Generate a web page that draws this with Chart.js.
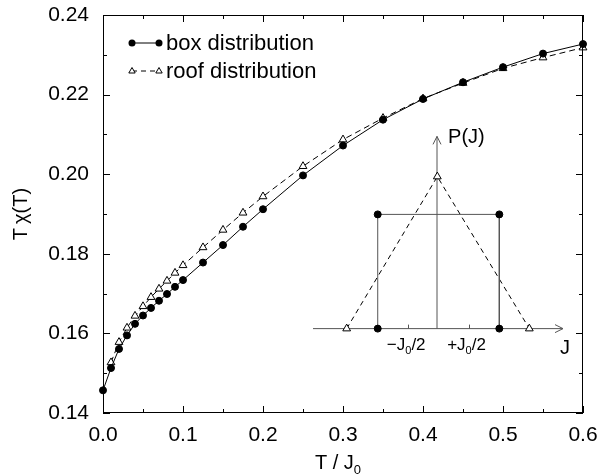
<!DOCTYPE html>
<html>
<head>
<meta charset="utf-8">
<script src="https://cdn.jsdelivr.net/npm/chart.js@4.4.1/dist/chart.umd.min.js"></script>
<style>
  html, body { margin: 0; padding: 0; background: #fff; }
  canvas { display: block; }
</style>
</head>
<body>
<canvas id="chi" width="598" height="474"></canvas>
<script>
const temps = [0, 0.01, 0.02, 0.03, 0.04, 0.05, 0.06, 0.07, 0.08, 0.09, 0.1,
  0.125, 0.15, 0.175, 0.2, 0.25, 0.3, 0.35, 0.4, 0.45, 0.5, 0.55, 0.6];
const boxChi = [0.1457, 0.1513, 0.1561, 0.1595, 0.1624, 0.1645, 0.1664, 0.1682, 0.1699, 0.1717, 0.1734,
  0.1778, 0.1822, 0.1868, 0.1912, 0.1997, 0.2072, 0.2137, 0.2189, 0.2231, 0.2269, 0.2303, 0.2327];
const roofTemps = temps.slice(1);
const roofChi = [0.1527, 0.1578, 0.1614, 0.1644, 0.1668, 0.1691, 0.1712, 0.1732, 0.1752, 0.1771,
  0.1816, 0.1860, 0.1903, 0.1944, 0.2020, 0.2087, 0.2141, 0.2190, 0.2229, 0.2266, 0.2293, 0.2318];

const xTickLabels = ["0.0", "0.1", "0.2", "0.3", "0.4", "0.5", "0.6"];
const yTickLabels = ["0.14", "0.16", "0.18", "0.20", "0.22", "0.24"];

// inset sketch of P(J), given in the main plot's coordinates
const insetBase = 0.1612;
const jAxisX = [0.2625, 0.575];
const pAxisX = 0.4175;
const pAxisY = [0.1612, 0.2095];
const boxJ = [0.3434, 0.3434, 0.4954, 0.4954];
const boxP = [0.1612, 0.1899, 0.1899, 0.1612];
const roofJ = [0.3046, 0.4179, 0.5329];
const roofP = [0.1612, 0.1994, 0.1612];
const insetTicks = [0.381, 0.457];

const FONT = '"Liberation Sans", Arial, Helvetica, sans-serif';
const zip = (xs, ys) => xs.map((x, i) => ({ x: x, y: ys[i] }));

function subText(ctx, parts, x, y, size, align) {
  // parts: [[text, isSub], ...]; draws with a lowered, smaller subscript
  const subSize = Math.round(size * 0.65);
  let w = 0;
  parts.forEach(p => {
    ctx.font = (p[1] ? subSize : size) + 'px ' + FONT;
    w += ctx.measureText(p[0]).width;
  });
  let cx = align === 'center' ? x - w / 2 : x;
  ctx.textAlign = 'left';
  ctx.textBaseline = 'alphabetic';
  parts.forEach(p => {
    ctx.font = (p[1] ? subSize : size) + 'px ' + FONT;
    ctx.fillText(p[0], cx, p[1] ? y + size * 0.25 : y);
    cx += ctx.measureText(p[0]).width;
  });
}

const decor = {
  id: 'decor',
  afterDraw(chart) {
    const ctx = chart.ctx;
    const xs = chart.scales.x, ys = chart.scales.y;
    const { left, right, top, bottom } = chart.chartArea;
    ctx.save();
    ctx.strokeStyle = '#000';
    ctx.lineWidth = 1;
    ctx.strokeRect(left + 0.5, top + 0.5, right - left - 1, bottom - top - 1);

    // inward tick marks on all four sides
    const xMajor = xTickLabels.map(Number);
    const yMajor = yTickLabels.map(Number);
    const mids = a => a.slice(1).map((v, i) => (v + a[i]) / 2);
    ctx.beginPath();
    const xt = (v, len) => {
      const X = Math.round(xs.getPixelForValue(v)) + 0.5;
      ctx.moveTo(X, bottom); ctx.lineTo(X, bottom - len);
      ctx.moveTo(X, top); ctx.lineTo(X, top + len);
    };
    const yt = (v, len) => {
      const Y = Math.round(ys.getPixelForValue(v)) + 0.5;
      ctx.moveTo(left, Y); ctx.lineTo(left + len, Y);
      ctx.moveTo(right, Y); ctx.lineTo(right - len, Y);
    };
    xMajor.forEach(v => xt(v, 7));
    mids(xMajor).forEach(v => xt(v, 4));
    yMajor.forEach(v => yt(v, 7));
    mids(yMajor).forEach(v => yt(v, 4));
    ctx.stroke();

    // inset arrows and ticks
    ctx.strokeStyle = '#555';
    ctx.beginPath();
    const jx = xs.getPixelForValue(jAxisX[1]), jy = ys.getPixelForValue(insetBase);
    ctx.moveTo(jx - 8, jy - 4); ctx.lineTo(jx, jy); ctx.lineTo(jx - 8, jy + 4);
    const px = xs.getPixelForValue(pAxisX), py = ys.getPixelForValue(pAxisY[1]);
    ctx.moveTo(px - 4, py + 8); ctx.lineTo(px, py); ctx.lineTo(px + 4, py + 8);
    insetTicks.forEach(v => {
      const X = Math.round(xs.getPixelForValue(v)) + 0.5;
      ctx.moveTo(X, jy); ctx.lineTo(X, jy - 4);
    });
    ctx.stroke();

    ctx.fillStyle = '#000';
    ctx.font = '20px ' + FONT;
    ctx.textAlign = 'left';
    ctx.textBaseline = 'middle';
    ctx.fillText('P(J)', xs.getPixelForValue(0.4313), ys.getPixelForValue(0.2092));
    ctx.textAlign = 'center';
    ctx.fillText('J', xs.getPixelForValue(0.5775), ys.getPixelForValue(0.1562));
    const ly = ys.getPixelForValue(0.1574) + 6;
    subText(ctx, [['\u2212J', false], ['0', true], ['/2', false]], xs.getPixelForValue(0.379), ly, 17, 'center');
    subText(ctx, [['+J', false], ['0', true], ['/2', false]], xs.getPixelForValue(0.4544), ly, 17, 'center');

    // legend
    const l1 = top + 28, l2 = top + 56;
    const a = left + 29, b = left + 56;
    ctx.strokeStyle = '#000';
    ctx.beginPath();
    ctx.moveTo(a, l1); ctx.lineTo(b, l1);
    ctx.stroke();
    ctx.setLineDash([5, 4]);
    ctx.beginPath();
    ctx.moveTo(a, l2); ctx.lineTo(b, l2);
    ctx.stroke();
    ctx.setLineDash([]);
    [a, b].forEach(X => {
      ctx.beginPath(); ctx.arc(X, l1, 3.5, 0, Math.PI * 2); ctx.fill();
      ctx.fillStyle = '#fff';
      ctx.beginPath();
      ctx.moveTo(X, l2 - 3.5); ctx.lineTo(X + 3.2, l2 + 2); ctx.lineTo(X - 3.2, l2 + 2); ctx.closePath();
      ctx.fill(); ctx.stroke();
      ctx.fillStyle = '#000';
    });
    ctx.font = '22px ' + FONT;
    ctx.textAlign = 'left';
    ctx.textBaseline = 'middle';
    ctx.fillText('box distribution', left + 63, l1 + 1);
    ctx.fillText('roof distribution', left + 63, l2 + 1);

    // axis titles
    subText(ctx, [['T / J', false], ['0', true]], 338, 469, 20, 'center');
    ctx.save();
    ctx.translate(27, (top + bottom) / 2);
    ctx.rotate(-Math.PI / 2);
    ctx.font = '20px ' + FONT;
    ctx.textAlign = 'center';
    ctx.textBaseline = 'alphabetic';
    ctx.fillText('T\u2009\u03c7(T)', 0, 0);
    ctx.restore();
    ctx.restore();
  }
};

const noPad = s => { s.paddingLeft = 0; s.paddingRight = 0; s.paddingTop = 0; s.paddingBottom = 0; };

const ink = '#000';
new Chart(document.getElementById('chi').getContext('2d'), {
  type: 'scatter',
  data: {
    datasets: [
      {
        label: 'box distribution',
        data: zip(temps, boxChi),
        showLine: true,
        borderColor: ink,
        borderWidth: 1,
        pointStyle: 'circle',
        pointRadius: 3.5,
        pointBackgroundColor: ink,
        pointBorderColor: ink,
      },
      {
        label: 'roof distribution',
        data: zip(roofTemps, roofChi),
        showLine: true,
        borderColor: ink,
        borderWidth: 1,
        borderDash: [6, 4],
        pointStyle: 'triangle',
        pointRadius: 4.5,
        pointBackgroundColor: '#fff',
        pointBorderColor: ink,
      },
      {
        label: 'inset box',
        data: zip(boxJ, boxP),
        showLine: true,
        borderColor: '#555',
        borderWidth: 1,
        pointStyle: 'circle',
        pointRadius: 3.5,
        pointBackgroundColor: ink,
        pointBorderColor: ink,
      },
      {
        label: 'inset roof',
        data: zip(roofJ, roofP),
        showLine: true,
        borderColor: ink,
        borderWidth: 1,
        borderDash: [5, 4],
        pointStyle: 'triangle',
        pointRadius: 4.5,
        pointBackgroundColor: '#fff',
        pointBorderColor: ink,
      },
      {
        label: 'J axis',
        data: zip(jAxisX, [insetBase, insetBase]),
        showLine: true,
        borderColor: '#555',
        borderWidth: 1,
        pointRadius: 0,
      },
      {
        label: 'P axis',
        data: zip([pAxisX, pAxisX], pAxisY),
        showLine: true,
        borderColor: '#555',
        borderWidth: 1,
        pointRadius: 0,
      },
    ],
  },
  options: {
    responsive: false,
    animation: false,
    events: [],
    clip: false,
    layout: { autoPadding: false, padding: { top: 15, right: 15, left: 0, bottom: 0 } },
    plugins: { legend: { display: false }, tooltip: { enabled: false } },
    scales: {
      x: {
        type: 'linear',
        min: 0,
        max: 0.6,
        afterBuildTicks: s => { s.ticks = xTickLabels.map(t => ({ value: Number(t) })); },
        afterFit: s => { s.height = 61; noPad(s); },
        grid: { display: false, drawTicks: false },
        border: { display: false },
        ticks: {
          padding: 10,
          color: ink,
          font: { family: FONT, size: 21 },
          callback: (v, i) => xTickLabels[i],
          maxRotation: 0,
        },
      },
      y: {
        type: 'linear',
        min: 0.14,
        max: 0.24,
        afterBuildTicks: s => { s.ticks = yTickLabels.map(t => ({ value: Number(t) })); },
        afterFit: s => { s.width = 103; noPad(s); },
        grid: { display: false, drawTicks: false },
        border: { display: false },
        ticks: {
          padding: 14,
          color: ink,
          font: { family: FONT, size: 21 },
          callback: (v, i) => yTickLabels[i],
        },
      },
    },
  },
  plugins: [decor],
});
</script>
</body>
</html>
